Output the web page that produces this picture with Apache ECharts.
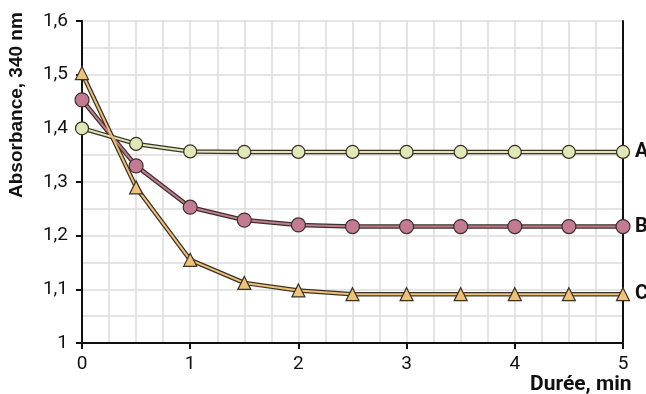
<!DOCTYPE html>
<html>
<head>
<meta charset="utf-8">
<script src="https://cdn.jsdelivr.net/npm/echarts@6/dist/echarts.min.js"></script>
<style>html,body{margin:0;padding:0;background:#fff}#c{width:646px;height:394px}</style>
</head>
<body>
<div id="c"></div>
<script>
const times = [0, 0.5, 1, 1.5, 2, 2.5, 3, 3.5, 4, 4.5, 5];
const seriesA = [1.40, 1.371, 1.357, 1.356, 1.356, 1.356, 1.356, 1.356, 1.356, 1.356, 1.356];
const seriesB = [1.453, 1.330, 1.253, 1.229, 1.220, 1.217, 1.217, 1.217, 1.217, 1.217, 1.217];
const seriesC = [1.503, 1.290, 1.155, 1.112, 1.098, 1.091, 1.091, 1.091, 1.091, 1.091, 1.091];
const names = ['A', 'B', 'C'];
const yTitle = 'Absorbance, 340 nm';
const xTitle = 'Durée, min';

const pairs = arr => times.map((t, i) => [t, arr[i]]);
const fill = ['#dfe8b6', '#c47a92', '#eec277'];
const symbols = ['circle', 'circle', 'triangle'];
const sizes = [13, 14, 13];
const data = [seriesA, seriesB, seriesC];
const dark = '#3a3228';

const series = [];
data.forEach((d, i) => {
  series.push({
    type: 'line', data: pairs(d), showSymbol: false, silent: true, z: 2,
    lineStyle: { color: dark, width: 4.5 }, animation: false
  });
});
data.forEach((d, i) => {
  series.push({
    type: 'line', name: names[i], data: pairs(d), z: 3,
    symbol: symbols[i], symbolSize: sizes[i],
    lineStyle: { color: fill[i], width: 2 },
    itemStyle: { color: fill[i], borderColor: dark, borderWidth: 1.2 },
    endLabel: { show: true, formatter: names[i], color: '#111', fontWeight: 'bold',
      fontSize: 20, fontFamily: 'Roboto', distance: 12 },
    animation: false
  });
});

const fmt = v => (Math.round(v * 10) / 10).toString().replace('.', ',');

const chart = echarts.init(document.getElementById('c'), null, { renderer: 'canvas' });
chart.setOption({
  backgroundColor: '#fff',
  grid: { left: 82, right: 23, top: 21, bottom: 51 },
  xAxis: {
    type: 'value', min: 0, max: 5, interval: 1,
    axisLine: { show: true, onZero: false, lineStyle: { color: '#111', width: 2 } },
    axisTick: { show: true, length: 6, lineStyle: { color: '#111', width: 2 } },
    axisLabel: { color: '#111', fontSize: 19, fontFamily: 'Roboto', margin: 12 },
    splitLine: { show: true, lineStyle: { color: '#dcdcdc', width: 1.5 } },
    minorTick: { show: false, splitNumber: 4 },
    minorSplitLine: { show: true, lineStyle: { color: '#dcdcdc', width: 1.5 } }
  },
  yAxis: [{
    type: 'value', min: 1, max: 1.6, interval: 0.1,
    axisLine: { show: true, lineStyle: { color: '#111', width: 2 } },
    axisTick: { show: true, length: 6, lineStyle: { color: '#111', width: 2 } },
    axisLabel: { color: '#111', fontSize: 19, fontFamily: 'Roboto', margin: 14, formatter: fmt },
    splitLine: { show: true, lineStyle: { color: '#dcdcdc', width: 1.5 } },
    minorTick: { show: false, splitNumber: 2 },
    minorSplitLine: { show: true, lineStyle: { color: '#dcdcdc', width: 1.5 } }
  }, {
    type: 'value', min: 1, max: 1.6, position: 'right',
    axisLine: { show: true, lineStyle: { color: '#111', width: 2 } },
    axisTick: { show: false }, axisLabel: { show: false }, splitLine: { show: false }
  }],
  graphic: [
    { type: 'text', rotation: Math.PI / 2,
      style: { text: yTitle, font: 'bold 19px "Liberation Sans"', fill: '#111' },
      x: 7, y: 198 },
    { type: 'text', x: 530, y: 374,
      style: { text: xTitle, font: 'bold 21px Roboto', fill: '#111' } }
  ],
  series
});
</script>
</body>
</html>
